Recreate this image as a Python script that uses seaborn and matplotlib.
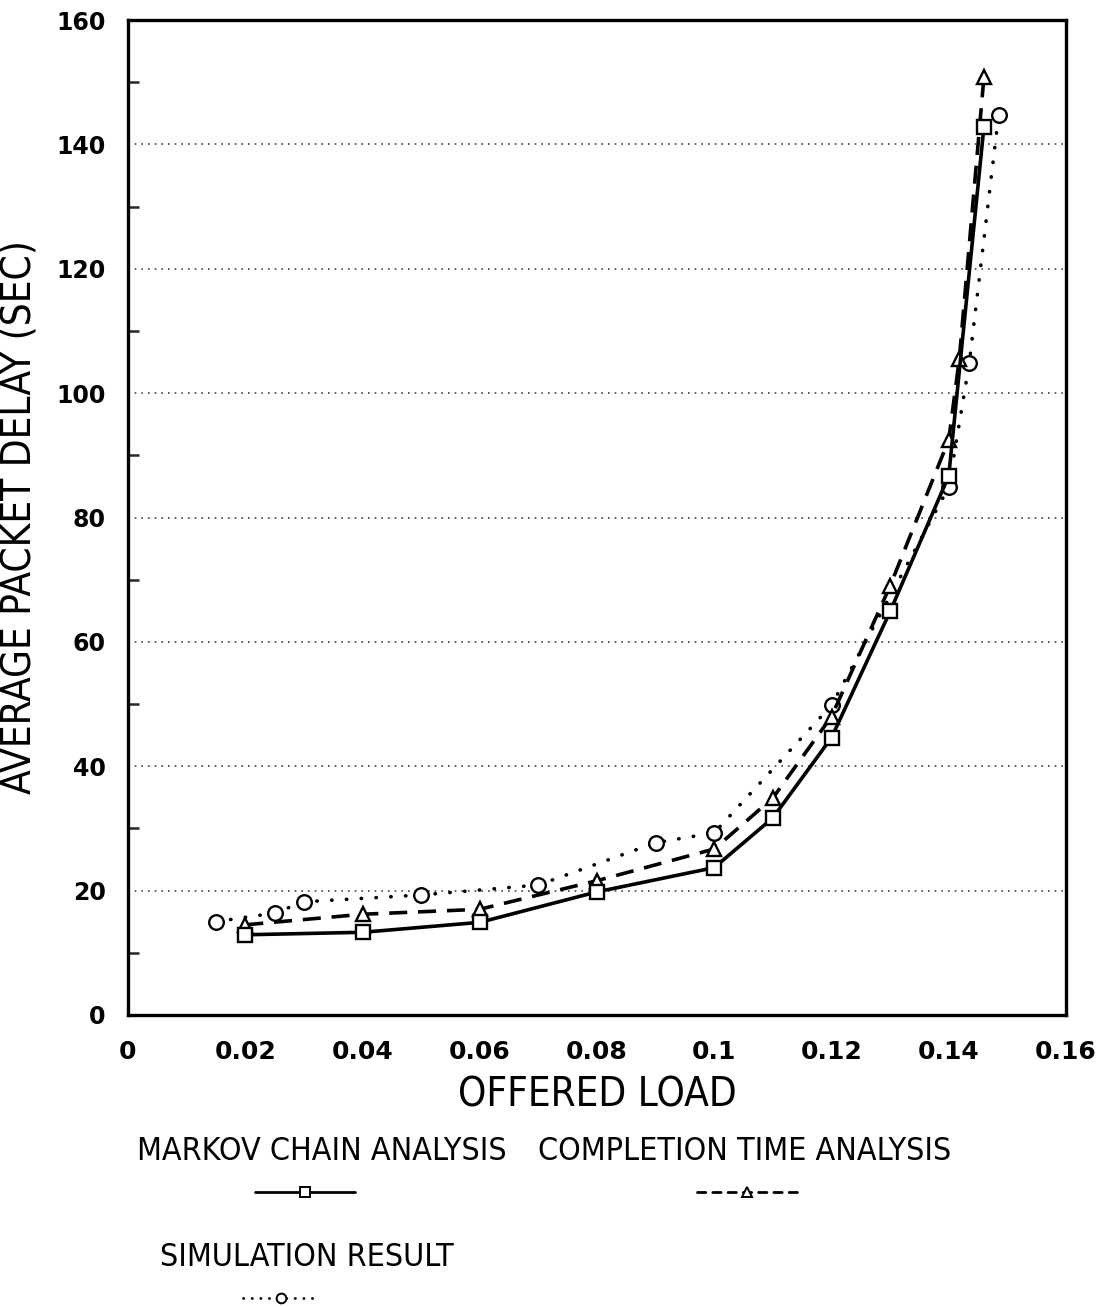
import matplotlib
matplotlib.use("Agg")
import matplotlib.pyplot as plt
from matplotlib import font_manager as fm
from matplotlib.lines import Line2D
from matplotlib.ticker import FixedLocator, MultipleLocator
import pandas as pd
import seaborn as sns

# Offered load vs. average packet delay for the three methods
markov_load = [0.02, 0.04, 0.06, 0.08, 0.10, 0.11, 0.12, 0.13, 0.14, 0.146]
markov_delay = [12.9, 13.3, 14.9, 19.8, 23.7, 31.7, 44.6, 64.9, 86.7, 142.8]

completion_load = [0.02, 0.04, 0.06, 0.08, 0.10, 0.11, 0.12, 0.13, 0.14, 0.1418, 0.146]
completion_delay = [14.5, 16.2, 17.0, 21.6, 26.7, 34.9, 48.0, 69.0, 92.5, 105.5, 150.8]

simulation_load = [0.015, 0.025, 0.03, 0.05, 0.07, 0.09, 0.10, 0.12, 0.14, 0.1435, 0.1485]
simulation_delay = [15.0, 16.4, 18.2, 19.3, 20.9, 27.7, 29.3, 49.8, 84.9, 104.8, 144.7]

x_ticks = [0, 0.02, 0.04, 0.06, 0.08, 0.10, 0.12, 0.14, 0.16]
x_tick_labels = ["0", "0.02", "0.04", "0.06", "0.08", "0.1", "0.12", "0.14", "0.16"]
y_ticks = [0, 20, 40, 60, 80, 100, 120, 140, 160]
y_tick_labels = ["0", "20", "40", "60", "80", "100", "120", "140", "160"]

series_names = ["MARKOV CHAIN ANALYSIS", "COMPLETION TIME ANALYSIS", "SIMULATION RESULT"]

sns.set_theme(style="white")
plt.rcParams["font.family"] = ["DejaVu Sans"]

STRETCH = {"ultra-condensed": 100, "extra-condensed": 200, "condensed": 300,
           "semi-condensed": 400}
FAMILY_RANK = ["Noto Sans", "Open Sans", "Liberation Sans Narrow", "Roboto", "DejaVu Sans"]


def narrow_font():
    """Pick an installed regular-weight condensed sans face (deterministically)."""
    found = []
    for f in fm.fontManager.ttflist:
        st = f.stretch
        if isinstance(st, str):
            st = STRETCH.get(st, 500)
        if not (st == 300 or "Narrow" in f.name) or f.style != "normal":
            continue
        w = f.weight if isinstance(f.weight, int) else (700 if "bold" in str(f.weight) else 400)
        rank = FAMILY_RANK.index(f.name) if f.name in FAMILY_RANK else len(FAMILY_RANK)
        found.append((abs(w - 400), rank, f.fname))
    found.sort()
    return found[0][2] if found else None


narrow_path = narrow_font()
if narrow_path:
    def label_font(size):
        return fm.FontProperties(fname=narrow_path, size=size)
    shrink = 1.0
else:
    def label_font(size):
        return fm.FontProperties(family="Liberation Sans", size=size)
    shrink = 0.82

W, H = 1105, 1307
fig = plt.figure(figsize=(W / 100, H / 100), dpi=100)
ax = fig.add_axes([128 / W, 1 - 1015 / H, (1066 - 128) / W, (1015 - 20) / H])

frames = {
    "markov": pd.DataFrame({"load": markov_load, "delay": markov_delay}),
    "completion": pd.DataFrame({"load": completion_load, "delay": completion_delay}),
    "simulation": pd.DataFrame({"load": simulation_load, "delay": simulation_delay}),
}

# horizontal dotted grid
for yv in y_ticks[1:-1]:
    ax.axhline(yv, color="#444444", lw=1.2, linestyle=(0, (1, 3)), zorder=0)

line_style = dict(estimator=None, sort=False, ax=ax, color="black",
                  markerfacecolor="white", markeredgecolor="black",
                  markeredgewidth=1.7, legend=False)

sns.lineplot(data=frames["simulation"], x="load", y="delay", marker="o",
             markersize=10.5, lw=2.6, linestyle=(0, (0.1, 4.0)),
             dash_capstyle="round", zorder=3, **line_style)
sns.lineplot(data=frames["completion"], x="load", y="delay", marker="^",
             markersize=10.5, lw=2.6, linestyle=(0, (5, 3)), zorder=4, **line_style)
sns.lineplot(data=frames["markov"], x="load", y="delay", marker="s",
             markersize=9.5, lw=2.6, linestyle="-", zorder=5, **line_style)

ax.set_xlim(0, 0.16)
ax.set_ylim(0, 160)
ax.xaxis.set_major_locator(FixedLocator(x_ticks))
ax.set_xticklabels(x_tick_labels)
ax.yaxis.set_major_locator(FixedLocator(y_ticks))
ax.set_yticklabels(y_tick_labels)
ax.yaxis.set_minor_locator(MultipleLocator(10))

ax.tick_params(axis="x", which="major", direction="in", length=16, width=1.8,
               pad=18, labelsize=18, colors="black")
ax.tick_params(axis="y", which="major", direction="in", length=8, width=1.8,
               pad=16, labelsize=17, colors="black")
ax.tick_params(axis="y", which="minor", direction="in", length=8, width=1.8, left=True)
for lab in ax.get_xticklabels() + ax.get_yticklabels():
    lab.set_fontweight("bold")

for sp in ax.spines.values():
    sp.set_visible(True)
    sp.set_color("black")
    sp.set_linewidth(2.4)

ax.set_xlabel("OFFERED LOAD", fontproperties=label_font(29 * shrink), labelpad=8,
              color="black")
ax.set_ylabel("AVERAGE PACKET DELAY (SEC)", fontproperties=label_font(29 * shrink),
              labelpad=12, color="black")

# legend: caption above each line sample
def fx(px):
    return px / W

def fy(py):
    return 1 - py / H

legend_items = [
    (series_names[0], 322, 1152, 255, 355, 1192, "-", "s"),
    (series_names[1], 745, 1152, 697, 797, 1192, (0, (3, 2.5)), "^"),
    (series_names[2], 307, 1257, 243, 318, 1298, (0, (0.1, 3)), "o"),
]
for name, tx, ty, x0, x1, ly, ls, mk in legend_items:
    fig.text(fx(tx), fy(ty), name, fontproperties=label_font(23 * shrink),
             ha="center", va="center", color="black")
    fig.add_artist(Line2D([fx(x0), fx(x1)], [fy(ly), fy(ly)], color="black",
                          lw=2.0, linestyle=ls, dash_capstyle="round",
                          transform=fig.transFigure))
    fig.add_artist(Line2D([fx((x0 + x1) / 2)], [fy(ly)], marker=mk, markersize=7,
                          markerfacecolor="white", markeredgecolor="black",
                          markeredgewidth=1.4, linestyle="none",
                          transform=fig.transFigure))

fig.savefig("out.png", dpi=100, facecolor="white")
